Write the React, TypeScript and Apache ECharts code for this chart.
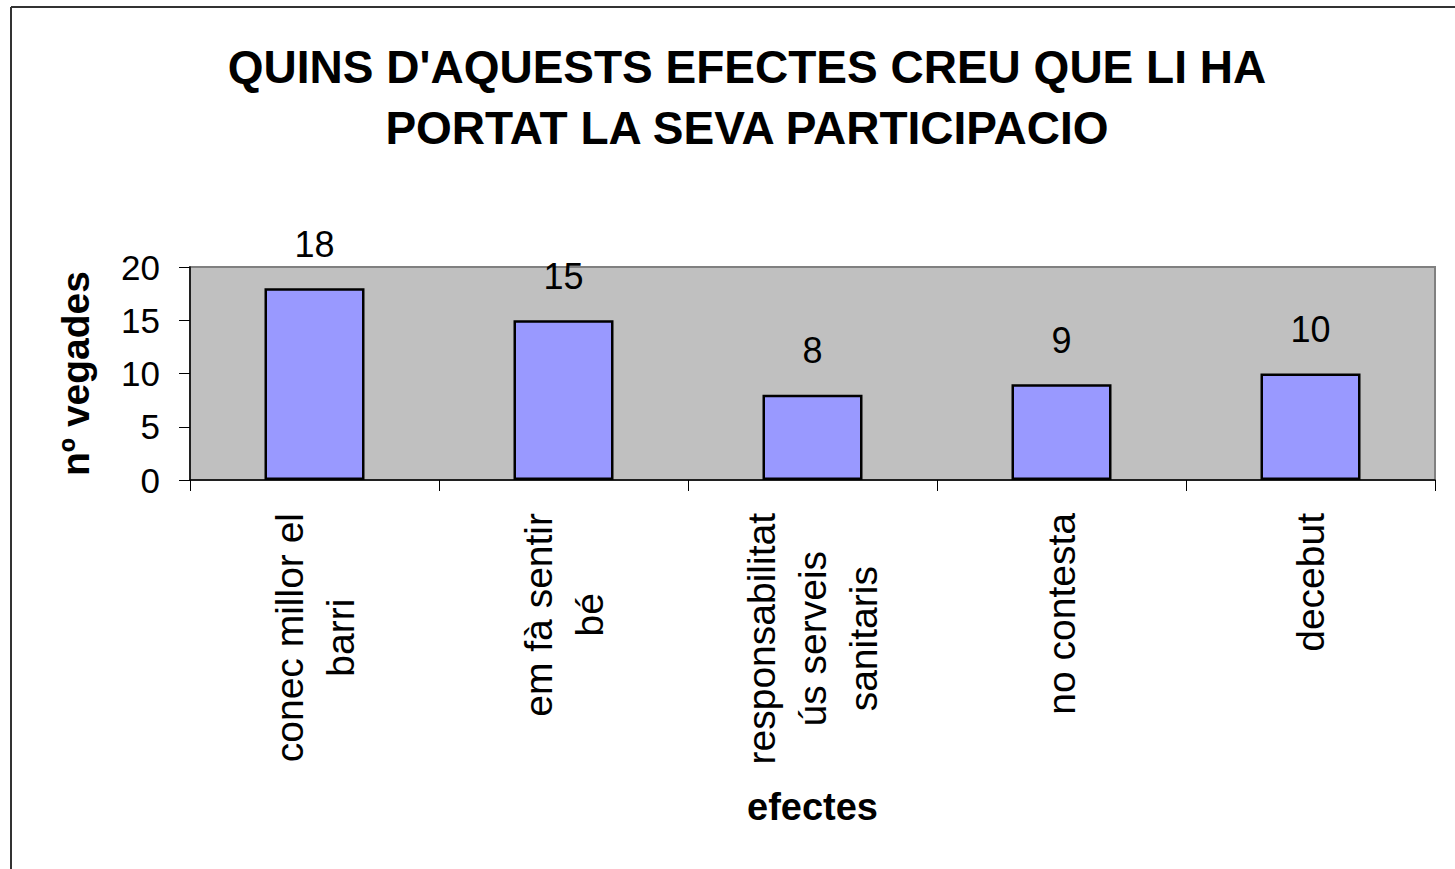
import React, { useEffect, useRef } from "react";
import * as echarts from "echarts";

const TITLE = "QUINS D'AQUESTS EFECTES CREU QUE LI HA\nPORTAT LA SEVA PARTICIPACIO";
const CATEGORIES: string[][] = [
  ["conec millor el", "barri"],
  ["em fà sentir", "bé"],
  ["responsabilitat", "ús serveis", "sanitaris"],
  ["no contesta"],
  ["decebut"],
];
const VALUES: number[] = [18, 15, 8, 9, 10];
const Y_NAME = "nº vegades";
const X_NAME = "efectes";

const FONT = "'Liberation Sans', Arial, sans-serif";

export default function App() {
  const ref = useRef<HTMLDivElement>(null);
  useEffect(() => {
    if (!ref.current) return;
    const chart = echarts.init(ref.current, undefined, { renderer: "svg" });
    const catKeys = CATEGORIES.map((c) => c.join("\n"));
    chart.setOption({
      animation: false,
      backgroundColor: "#ffffff",
      textStyle: { fontFamily: FONT },
      title: {
        text: TITLE,
        left: 747,
        top: 36,
        padding: 0,
        textAlign: "center",
        textStyle: {
          fontFamily: FONT,
          fontSize: 46,
          fontWeight: "bold",
          color: "#000",
          lineHeight: 61,
        },
      },
      graphic: [
        { type: "line", shape: { x1: 11, y1: 7, x2: 1455, y2: 7 }, style: { stroke: "#333", lineWidth: 2 } },
        { type: "line", shape: { x1: 11, y1: 7, x2: 11, y2: 869 }, style: { stroke: "#333", lineWidth: 2 } },
      ],
      grid: {
        left: 190,
        right: 20,
        top: 267,
        bottom: 389,
        show: true,
        backgroundColor: "#C0C0C0",
        borderColor: "#808080",
        borderWidth: 2,
        containLabel: false,
        outerBoundsMode: "none",
      },
      xAxis: {
        type: "category",
        data: catKeys,
        name: X_NAME,
        nameLocation: "middle",
        nameGap: 308,
        nameTextStyle: { fontFamily: FONT, fontSize: 38, fontWeight: "bold", color: "#000" },
        axisLine: { show: true, lineStyle: { color: "#000", width: 1.5 } },
        axisTick: { show: true, length: 11, lineStyle: { color: "#000", width: 1 } },
        axisLabel: {
          interval: 0,
          rotate: 90,
          margin: 33,
          hideOverlap: false,
          formatter: (v: string) => v.split("\n").map((l) => `{c|${l}}`).join("\n"),
          rich: {
            c: { align: "center", fontFamily: FONT, fontSize: 39, lineHeight: 51, color: "#000" },
          },
        },
        splitLine: { show: false },
      },
      yAxis: {
        type: "value",
        min: 0,
        max: 20,
        interval: 5,
        name: Y_NAME,
        nameLocation: "middle",
        nameGap: 95,
        nameRotate: 90,
        nameTextStyle: { fontFamily: FONT, fontSize: 39, fontWeight: "bold", color: "#000" },
        axisLine: { show: true, lineStyle: { color: "#000", width: 1.5 } },
        axisTick: { show: true, length: 11, lineStyle: { color: "#000", width: 1 } },
        axisLabel: { margin: 30, fontFamily: FONT, fontSize: 35, color: "#000" },
        splitLine: { show: false },
      },
      series: [
        {
          type: "bar",
          data: VALUES,
          barWidth: 100,
          itemStyle: { color: "#9999FF", borderColor: "#000", borderWidth: 2.5 },
          label: {
            show: true,
            position: "top",
            distance: 26,
            fontFamily: FONT,
            fontSize: 36,
            color: "#000",
          },
        },
      ],
    });
    return () => chart.dispose();
  }, []);
  return (
    <div
      ref={ref}
      style={{ position: "absolute", left: 0, top: 0, width: 1455, height: 869 }}
    />
  );
}
